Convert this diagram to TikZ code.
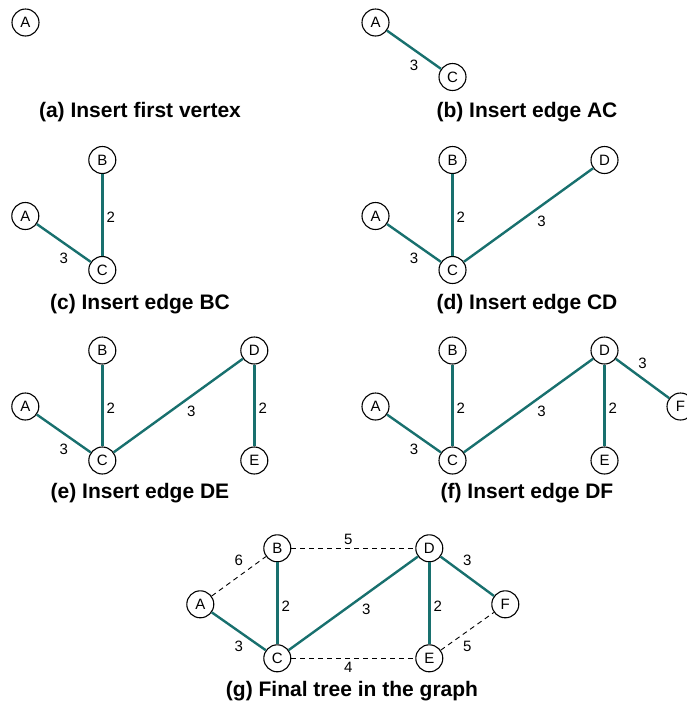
\documentclass[tikz,border=0pt]{standalone}
\usepackage{fontspec}
\setmainfont{Liberation Sans}
\usetikzlibrary{positioning}
\definecolor{treeteal}{RGB}{24,112,110}
\begin{document}
\begin{tikzpicture}[x=1pt,y=-1pt,
  vertex/.style={draw,circle,line width=1.1pt,minimum size=27pt,inner sep=0pt,font=\fontsize{15}{15}\selectfont},
  treeedge/.style={draw=treeteal,line width=2.4pt},
  graphedge/.style={draw,line width=0.9pt,dash pattern=on 5pt off 4pt},
  weight/.style={inner sep=1pt,font=\fontsize{15}{15}\selectfont},
  caption/.style={font=\bfseries\fontsize{21}{21}\selectfont}]
  \useasboundingbox (0,0) rectangle (687,705);
  % (a)
  \node[vertex] (aA) at (25.5,22.5) {A};
  \node[caption] (acap) at (140,112) {(a) Insert first vertex};
  % (b)
  \node[vertex] (bA) at (375.5,22.5) {A};
  \node[vertex] (bC) at (452.5,77) {C};
  \draw[treeedge] (bA) -- node[weight,below=8pt,midway] {3} (bC);
  \node[caption] (bcap) at (527,112) {(b) Insert edge AC};
  % (c)
  \node[vertex] (cA) at (25.3,216) {A};
  \node[vertex] (cB) at (102.3,160) {B};
  \node[vertex] (cC) at (102.3,270) {C};
  \draw[treeedge] (cA) -- node[weight,below=8pt,midway] {3} (cC);
  \draw[treeedge] (cB) -- node[weight,right=2pt,pos=0.53] {2} (cC);
  \node[caption] (ccap) at (140,304) {(c) Insert edge BC};
  % (d)
  \node[vertex] (dA) at (375.5,216) {A};
  \node[vertex] (dB) at (452.5,160) {B};
  \node[vertex] (dC) at (452.5,270) {C};
  \node[vertex] (dD) at (604.5,160) {D};
  \draw[treeedge] (dA) -- node[weight,below=8pt,midway] {3} (dC);
  \draw[treeedge] (dB) -- node[weight,right=2pt,pos=0.53] {2} (dC);
  \draw[treeedge] (dC) -- node[weight,below=8pt,pos=0.6] {3} (dD);
  \node[caption] (dcap) at (527,304) {(d) Insert edge CD};
  % (e)
  \node[vertex] (eA) at (25.3,406.5) {A};
  \node[vertex] (eB) at (102.3,350.5) {B};
  \node[vertex] (eC) at (102.3,460.5) {C};
  \node[vertex] (eD) at (254.3,350.5) {D};
  \node[vertex] (eE) at (254.3,460.5) {E};
  \draw[treeedge] (eA) -- node[weight,below=8pt,midway] {3} (eC);
  \draw[treeedge] (eB) -- node[weight,right=2pt,pos=0.53] {2} (eC);
  \draw[treeedge] (eC) -- node[weight,below=8pt,pos=0.6] {3} (eD);
  \draw[treeedge] (eD) -- node[weight,right=2pt,pos=0.53] {2} (eE);
  \node[caption] (ecap) at (140,493) {(e) Insert edge DE};
  % (f)
  \node[vertex] (fA) at (375.5,406.5) {A};
  \node[vertex] (fB) at (452.5,350.5) {B};
  \node[vertex] (fC) at (452.5,460.5) {C};
  \node[vertex] (fD) at (604.5,350.5) {D};
  \node[vertex] (fE) at (604.5,460.5) {E};
  \node[vertex] (fF) at (680.5,406.5) {F};
  \draw[treeedge] (fA) -- node[weight,below=8pt,midway] {3} (fC);
  \draw[treeedge] (fB) -- node[weight,right=2pt,pos=0.53] {2} (fC);
  \draw[treeedge] (fC) -- node[weight,below=8pt,pos=0.6] {3} (fD);
  \draw[treeedge] (fD) -- node[weight,right=2pt,pos=0.53] {2} (fE);
  \draw[treeedge] (fD) -- node[weight,above=8pt,midway] {3} (fF);
  \node[caption] (fcap) at (527,493) {(f) Insert edge DF};
  % (g)
  \node[vertex] (gA) at (200.3,604.3) {A};
  \node[vertex] (gB) at (277.3,548.3) {B};
  \node[vertex] (gC) at (277.3,658.3) {C};
  \node[vertex] (gD) at (429.3,548.3) {D};
  \node[vertex] (gE) at (429.3,658.3) {E};
  \node[vertex] (gF) at (505.3,604.3) {F};
  \draw[graphedge] (gA) -- node[weight,above=9pt,midway] {6} (gB);
  \draw[graphedge] (gB) -- node[weight,above=2pt,pos=0.46] {5} (gD);
  \draw[graphedge] (gC) -- node[weight,below=2pt,pos=0.46] {4} (gE);
  \draw[graphedge] (gE) -- node[weight,below=8pt,midway] {5} (gF);
  \draw[treeedge] (gA) -- node[weight,below=8pt,midway] {3} (gC);
  \draw[treeedge] (gB) -- node[weight,right=2pt,pos=0.53] {2} (gC);
  \draw[treeedge] (gC) -- node[weight,below=8pt,pos=0.6] {3} (gD);
  \draw[treeedge] (gD) -- node[weight,right=2pt,pos=0.53] {2} (gE);
  \draw[treeedge] (gD) -- node[weight,above=8pt,midway] {3} (gF);
  \node[caption] (gcap) at (352,691) {(g) Final tree in the graph};
\end{tikzpicture}
\end{document}
